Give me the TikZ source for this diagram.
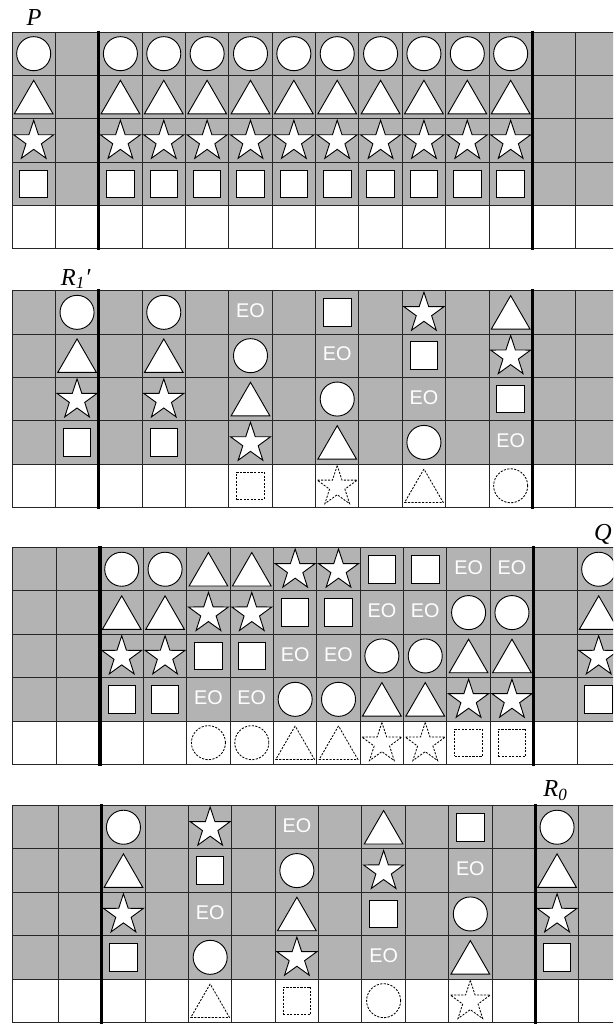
\documentclass[tikz,border=0pt]{standalone}
\usepackage{fontspec}
\setmainfont{Liberation Serif}
\setsansfont{Liberation Sans}
\usetikzlibrary{shapes.geometric}
\definecolor{cellgray}{RGB}{179,179,179}

% one column of tokens: grid name, column, offset k, top y, x nudge
\newcommand{\tokcol}[5]{%
  \foreach \row in {0,...,4}{
    \pgfmathtruncatemacro{\kind}{mod(\row+#3,5)}
    \ifnum\row=4 \tikzset{look/.style={ghost}}\else\tikzset{look/.style={}}\fi
    \coordinate (#1-#2-\row) at (#2+0.5+#5, #4-\row-0.5);
    \ifcase\kind
      \node[circ,look] (#1-#2-\row-t) at (#1-#2-\row) {};
    \or
      \node[tri,look] (#1-#2-\row-t) at (#1-#2-\row) {};
    \or
      \node[starbox,look] (#1-#2-\row-t) at (#1-#2-\row) {};
    \or
      \node[sqbox,look] (#1-#2-\row-t) at (#1-#2-\row) {};
    \or
      \ifnum\row<4 \node[eo] (#1-#2-\row-t) at (#1-#2-\row) {EO};\fi
    \fi
  }}

\begin{document}
\begin{tikzpicture}[x=1cm, y=1cm]
\tikzset{
  gridline/.style={line width=0.6pt, draw=black!85},
  wall/.style={line width=2.2pt, draw=black},
  tok/.style={draw=black, line width=0.6pt, fill=white, inner sep=0pt, outer sep=0pt},
  ghost/.style={draw=black, line width=0.55pt, dash pattern=on 1.4pt off 0.9pt, fill=none},
  circ/.style={tok, circle, minimum size=0.785cm},
  tri/.style={tok, regular polygon, regular polygon sides=3, minimum size=1.03cm, yshift=-0.129cm},
  starbox/.style={tok, star, star points=5, star point ratio=2.6, minimum size=0.97cm, yshift=-0.02cm},
  sqbox/.style={tok, rectangle, minimum size=0.634cm},
  eo/.style={text=white, font=\sffamily\fontsize{13}{14}\selectfont, inner sep=0pt, yshift=0.04cm},
  lbl/.style={font=\itshape\fontsize{16}{18}\selectfont, inner sep=0pt, anchor=base west}
}
\useasboundingbox (-0.277,0.738) rectangle (13.861,-22.878);
\clip (-0.277,0.738) rectangle (13.861,-22.878);

% the four boards
\foreach \gname/\ytop/\dx in {g1/0/0, g2/-5.965/0, g3/-11.89/0.03, g4/-17.84/0.07}{
  \fill[cellgray] (0,\ytop) rectangle (14,\ytop-4);
  \draw[gridline] (0,\ytop) -- (0,\ytop-5);
  \foreach \i in {1,...,14} \draw[gridline] (\i+\dx,\ytop) -- (\i+\dx,\ytop-5);
  \foreach \j in {0,...,5} \draw[gridline] (0,\ytop-\j) -- (14,\ytop-\j);
}

% P
\foreach \col/\kk in {0/0,2/0,3/0,4/0,5/0,6/0,7/0,8/0,9/0,10/0,11/0}{\tokcol{g1}{\col}{\kk}{0}{0}}
% R1'
\foreach \col/\kk in {1/0,3/0,5/4,7/3,9/2,11/1}{\tokcol{g2}{\col}{\kk}{-5.965}{0}}
% Q
\foreach \col/\kk in {2/0,3/0,4/1,5/1,6/2,7/2,8/3,9/3,10/4,11/4,13/0}{\tokcol{g3}{\col}{\kk}{-11.89}{0.03}}
% R0
\foreach \col/\kk in {2/0,4/2,6/4,8/1,10/3,12/0}{\tokcol{g4}{\col}{\kk}{-17.84}{0.07}}

% thick walls
\foreach \ytop/\dx in {0/0, -5.965/0, -11.89/0.03, -17.84/0.07}{
  \draw[wall] (2+\dx,\ytop+0.03) -- (2+\dx,\ytop-5.03);
  \draw[wall] (12+\dx,\ytop+0.03) -- (12+\dx,\ytop-5.03);
}

\node[lbl] (lblP) at (0.33,0.16) {P};
\node[lbl] (lblR1) at (1.12,-5.835) {R\textsubscript{1}′};
\node[lbl] (lblQ) at (13.42,-11.735) {Q};
\node[lbl] (lblR0) at (12.25,-17.64) {R\textsubscript{0}};
\end{tikzpicture}
\end{document}
